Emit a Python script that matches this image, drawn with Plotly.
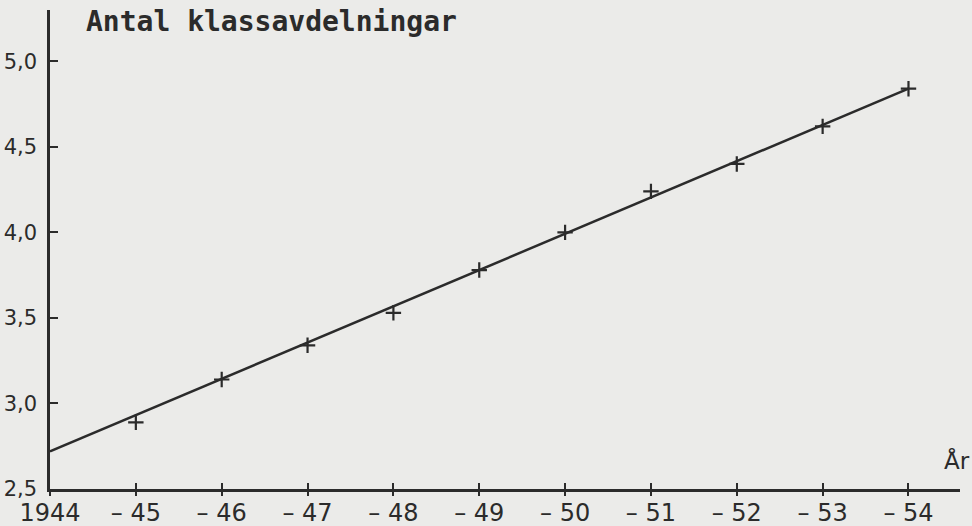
import plotly.graph_objects as go

# ---- data ----
years = [1945, 1946, 1947, 1948, 1949, 1950, 1951, 1952, 1953, 1954]
classes = [2.89, 3.14, 3.34, 3.53, 3.78, 4.00, 4.24, 4.40, 4.62, 4.84]

trend_years = [1944, 1954]
trend_values = [2.72, 4.84]

x_tickvals = [1944, 1945, 1946, 1947, 1948, 1949, 1950, 1951, 1952, 1953, 1954]
x_ticktext = ["1944", "– 45", "– 46", "– 47", "– 48", "– 49", "– 50", "– 51", "– 52", "– 53", "– 54"]
y_tickvals = [2.5, 3.0, 3.5, 4.0, 4.5, 5.0]
y_ticktext = ["2,5", "3,0", "3,5", "4,0", "4,5", "5,0"]

title_text = "Antal klassavdelningar"
xunit_text = "År"

INK = "#2b2b2b"
BG = "#ebebe9"
FONT = "DejaVu Sans"

fig = go.Figure()
fig.add_trace(go.Scatter(
    x=trend_years, y=trend_values, mode="lines",
    line=dict(color=INK, width=2.5), showlegend=False, hoverinfo="skip"))
fig.add_trace(go.Scatter(
    x=years, y=classes, mode="markers",
    marker=dict(symbol="cross-thin", size=11, line=dict(color=INK, width=2.2)),
    showlegend=False))
# invisible trace on the overlay axis (used only for outward tick marks)
fig.add_trace(go.Scatter(x=years, y=classes, xaxis="x2", mode="markers",
                         marker=dict(opacity=0), showlegend=False, hoverinfo="skip"))

xr = [1944, 1954.6]
fig.update_layout(
    width=972, height=526,
    margin=dict(l=50, r=12, t=10, b=37),
    paper_bgcolor=BG, plot_bgcolor=BG,
    font=dict(family=FONT, color=INK),
    xaxis=dict(range=xr, showgrid=False, zeroline=False, automargin=False,
               showline=True, linecolor=INK, linewidth=2.5,
               tickvals=x_tickvals, ticktext=x_ticktext,
               ticks="inside", ticklen=6, tickwidth=2, tickcolor=INK,
               tickfont=dict(size=24, family=FONT, color=INK)),
    xaxis2=dict(range=xr, overlaying="x", matches="x", side="bottom",
                showgrid=False, zeroline=False, showline=False, automargin=False,
                tickvals=x_tickvals, showticklabels=False,
                ticks="outside", ticklen=6, tickwidth=2, tickcolor=INK),
    yaxis=dict(range=[2.5, 5.3], showgrid=False, zeroline=False, automargin=False,
               showline=True, linecolor=INK, linewidth=2.5,
               tickvals=y_tickvals, ticktext=y_ticktext,
               ticks="inside", ticklen=8, tickwidth=2, tickcolor=INK,
               ticklabelstandoff=6,
               tickfont=dict(size=21, family=FONT, color=INK)),
    annotations=[
        dict(x=1944.4, y=5.235, xref="x", yref="y", text=title_text,
             showarrow=False, xanchor="left", yanchor="middle",
             font=dict(size=28, family="DejaVu Sans Mono", color=INK, weight="bold")),
        dict(x=1954.57, y=2.665, xref="x", yref="y", text=xunit_text,
             showarrow=False, xanchor="center", yanchor="middle",
             font=dict(size=23, family=FONT, color=INK)),
    ],
)

fig.write_html(
    "out.html",
    config={"displayModeBar": False},
    post_script="document.body.style.margin='0';document.body.style.overflow='hidden';"
                "document.body.style.background='" + BG + "';",
)
